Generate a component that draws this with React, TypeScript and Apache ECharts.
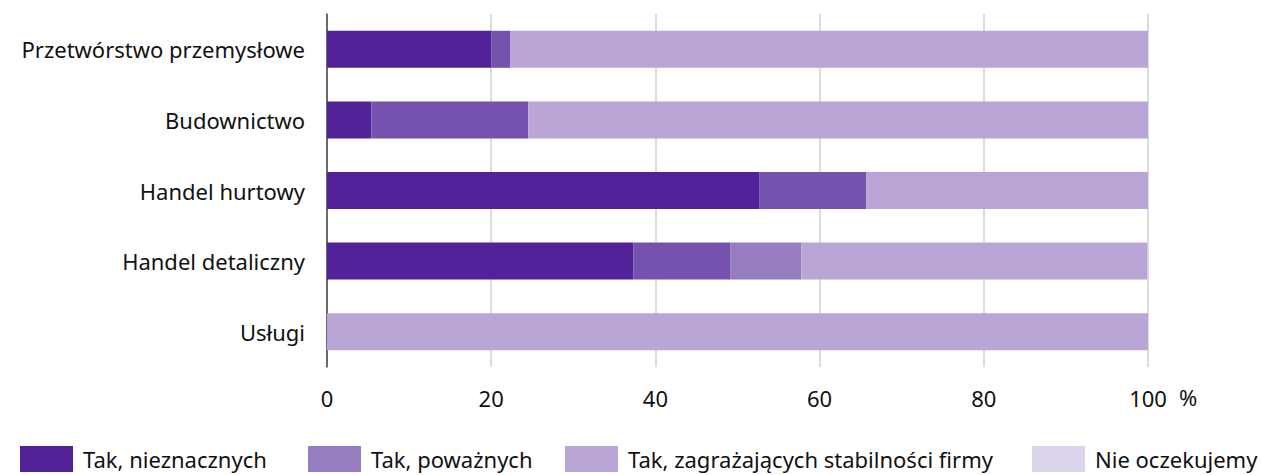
import React, { useEffect, useRef } from "react";
import * as echarts from "echarts";

const categories = [
  "Przetwórstwo przemysłowe",
  "Budownictwo",
  "Handel hurtowy",
  "Handel detaliczny",
  "Usługi",
];
const nieznacznych = [20.0, 5.4, 52.7, 37.3, 0];
const sredniSegment = [2.3, 19.1, 13.0, 11.8, 0];
const powaznych = [0, 0, 0, 8.7, 0];
const zagrazajacych = [77.7, 75.5, 34.3, 42.1, 100];
const nieOczekujemy = [0, 0, 0, 0, 0];
const seriesNames = [
  "Tak, nieznacznych",
  "Tak, poważnych",
  "Tak, zagrażających stabilności firmy",
  "Nie oczekujemy",
];

const FONT = "'Noto Sans', sans-serif";
const FS = 22;

export default function App() {
  const ref = useRef<HTMLDivElement>(null);
  useEffect(() => {
    if (!ref.current) return;
    const chart = echarts.init(ref.current, null, { renderer: "svg" });
    const bar = (name: string, data: number[], color: string) => ({
      name,
      type: "bar",
      stack: "total",
      barWidth: 37,
      data,
      itemStyle: { color },
      emphasis: { disabled: true },
    });
    const legendText = {
      fontSize: FS,
      color: "#111",
      fontFamily: FONT,
      lineHeight: 22,
      padding: [0, 0, 0, 5],
    };
    const legendBase = {
      top: 446,
      padding: 0,
      itemWidth: 53,
      itemHeight: 26,
      icon: "rect",
      textStyle: legendText,
      selectedMode: false,
    };
    chart.setOption({
      animation: false,
      textStyle: { fontFamily: FONT },
      grid: { left: 327, right: 113, top: 14, bottom: 108 },
      xAxis: {
        type: "value",
        min: 0,
        max: 100,
        interval: 20,
        axisLine: { show: false },
        axisTick: { show: false },
        splitLine: { show: true, lineStyle: { color: "#d0d0d0", width: 1.5 } },
        axisLabel: { fontSize: FS, color: "#111", margin: 20, fontFamily: FONT },
      },
      yAxis: {
        type: "category",
        inverse: true,
        data: categories,
        axisLine: { show: true, lineStyle: { color: "#444", width: 1.5 } },
        axisTick: { show: false },
        axisLabel: { fontSize: FS, color: "#111", margin: 22, fontFamily: FONT },
      },
      legend: [
        { ...legendBase, left: 20, data: [seriesNames[0]] },
        { ...legendBase, left: 308, data: [seriesNames[1]] },
        { ...legendBase, left: 565, data: [seriesNames[2]] },
        { ...legendBase, left: 1032, data: [seriesNames[3]] },
      ],
      graphic: [
        {
          type: "text",
          x: 1179,
          y: 397,
          style: {
            text: "%",
            fontSize: FS,
            fill: "#111",
            fontFamily: FONT,
            verticalAlign: "middle",
          },
        },
      ],
      series: [
        bar(seriesNames[0], nieznacznych, "#522398"),
        bar("seria 2", sredniSegment, "#7552ae"),
        bar(seriesNames[1], powaznych, "#967dbf"),
        bar(seriesNames[2], zagrazajacych, "#b9a6d6"),
        bar(seriesNames[3], nieOczekujemy, "#dcd3ec"),
      ],
    });
    return () => chart.dispose();
  }, []);
  return <div ref={ref} style={{ width: 1261, height: 475, position: "absolute", left: 0, top: 0 }} />;
}
